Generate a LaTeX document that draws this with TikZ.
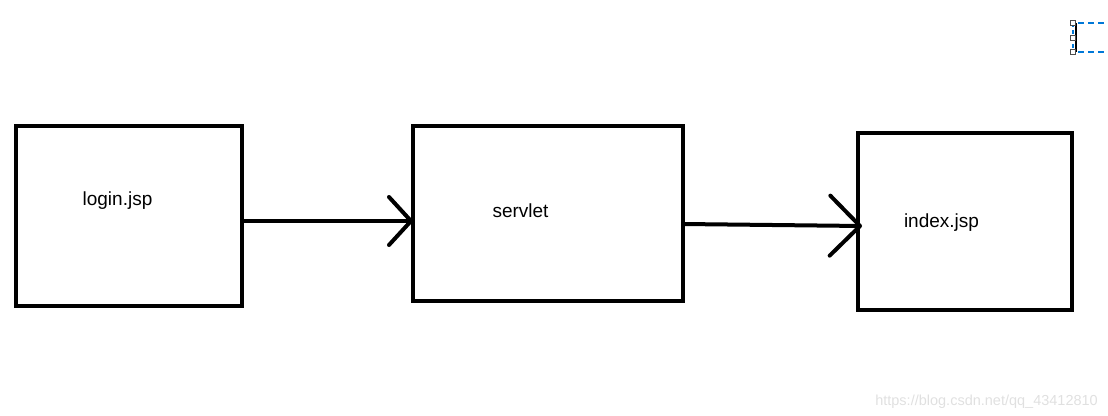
\documentclass[tikz,border=0pt]{standalone}
\usepackage{fontspec}
\setmainfont{Liberation Sans}
\usetikzlibrary{arrows.meta, positioning}
\definecolor{selblue}{RGB}{0,120,215}
\tikzstyle{page} = [rectangle, draw=black, line width=4pt, outer sep=0pt]
\tikzstyle{pagename} = [anchor=base, inner sep=0pt, font=\fontsize{19}{23}\selectfont]
\tikzstyle{arrow} = [line width=4pt, line cap=round, -{Straight Barb[round, length=22pt, width=48pt]}]
\tikzstyle{bigarrow} = [line width=4pt, line cap=round, -{Straight Barb[round, length=30pt, width=60pt]}]

\begin{document}
\begin{tikzpicture}[x=1pt, y=-1pt]
\useasboundingbox (0,0) rectangle (1108,415);

\node (login) [page, minimum width=226pt, minimum height=180pt] at (129,216) {};
\node (servlet) [page, minimum width=270pt, minimum height=175pt] at (548,213.5) {};
\node (index) [page, minimum width=214pt, minimum height=177pt] at (965,221.5) {};

\node (tlogin) [pagename] at (117.5,205) {login.jsp};
\node (tservlet) [pagename] at (520.5,217) {servlet};
\node (tindex) [pagename] at (941.5,227) {index.jsp};

\draw [arrow] ([yshift=-5pt]login.east) -- ([yshift=-7.5pt]servlet.west);
\draw [bigarrow] ([yshift=-10.5pt]servlet.east) -- ([xshift=4pt,yshift=-4.5pt]index.west);

% selection handles, top right
\draw [selblue, line width=1.3pt, dash pattern=on 6pt off 4pt] (1078,23) -- (1108,23);
\draw [selblue, line width=1.3pt, dash pattern=on 6pt off 4pt] (1078,52) -- (1108,52);
\draw [selblue, line width=1.3pt, dash pattern=on 4pt off 3pt] (1073,23) -- (1073,52);
\draw [line width=1.5pt] (1076,23) -- (1076,52);
\foreach \y in {23,38,52}
  \draw [black!70, line width=1pt, fill=white] (1070.5,\y-2.5) rectangle ++(5,5);

\node (mark) [anchor=base east, inner sep=0pt, text=black!12, font=\fontsize{14.5}{17}\selectfont] at (1098,405) {https://blog.csdn.net/qq\_43412810};

\end{tikzpicture}
\end{document}
